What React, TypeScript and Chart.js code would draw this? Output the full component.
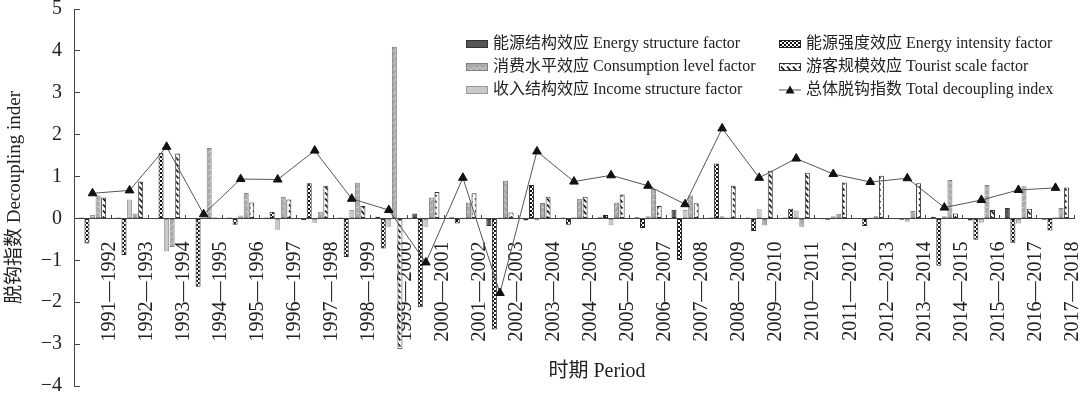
import React, { useEffect, useRef } from "react";
import { Chart, registerables } from "chart.js";

Chart.register(...registerables);

const categories = [
  "1991—1992", "1992—1993", "1993—1994", "1994—1995", "1995—1996", "1996—1997",
  "1997—1998", "1998—1999", "1999—2000", "2000—2001", "2001—2002", "2002—2003",
  "2003—2004", "2004—2005", "2005—2006", "2006—2007", "2007—2008", "2008—2009",
  "2009—2010", "2010—2011", "2011—2012", "2012—2013", "2013—2014", "2014—2015",
  "2015—2016", "2016—2017", "2017—2018",
];

const energyStructure = [0.02, 0.02, -0.02, 0.01, 0.02, 0.02, -0.04, 0.02, 0.04, 0.12, 0.03, -0.18, -0.05, 0.02, 0.03, 0.03, 0.21, 0.02, 0.02, 0.02, -0.02, 0.01, -0.02, 0.04, -0.05, 0.25, -0.03];
const energyIntensity = [-0.6, -0.87, 1.57, -1.63, -0.15, 0.16, 0.84, -0.92, -0.72, -2.12, -0.12, -2.65, 0.8, -0.15, 0.08, -0.23, -0.99, 1.31, -0.3, 0.23, -0.03, -0.18, -0.03, -1.13, -0.51, -0.58, -0.29];
const incomeStructure = [0.08, 0.45, -0.79, 0.02, 0.07, -0.27, -0.1, 0.2, -0.2, -0.2, 0.02, 0.02, -0.05, 0.03, -0.16, 0.05, 0.2, 0.05, 0.22, 0.19, 0.05, 0.02, -0.08, 0.05, -0.1, -0.12, 0.03];
const consumptionLevel = [0.55, 0.12, -0.68, 1.68, 0.61, 0.52, 0.16, 0.85, 4.1, 0.5, 0.38, 0.9, 0.37, 0.47, 0.38, 0.7, 0.55, 0.02, -0.17, -0.2, 0.11, 0.05, 0.18, 0.92, 0.8, 0.77, 0.25];
const touristScale = [0.5, 0.88, 1.55, 0.02, 0.38, 0.45, 0.78, 0.3, -3.12, 0.63, 0.6, 0.14, 0.52, 0.52, 0.57, 0.3, 0.36, 0.78, 1.14, 1.09, 0.86, 1.02, 0.84, 0.12, 0.2, 0.23, 0.74];
const totalDecoupling = [0.6, 0.67, 1.71, 0.1, 0.94, 0.93, 1.62, 0.47, 0.2, -1.05, 0.97, -1.78, 1.6, 0.88, 1.03, 0.78, 0.34, 2.15, 0.97, 1.43, 1.06, 0.87, 0.96, 0.26, 0.44, 0.68, 0.73];

const yTicks = [-4, -3, -2, -1, 0, 1, 2, 3, 4, 5];

const FONT = "'Liberation Serif', 'Noto Sans CJK SC', serif";

function makePattern(kind: string): CanvasPattern | string {
  const c = document.createElement("canvas");
  const g = c.getContext("2d")!;
  if (kind === "checker") {
    c.width = 4; c.height = 4;
    g.fillStyle = "#ffffff"; g.fillRect(0, 0, 4, 4);
    g.fillStyle = "#111111";
    g.fillRect(0, 0, 2, 2); g.fillRect(2, 2, 2, 2);
  } else if (kind === "tourist") {
    c.width = 6; c.height = 6;
    g.fillStyle = "#ffffff"; g.fillRect(0, 0, 6, 6);
    g.strokeStyle = "#111111"; g.lineWidth = 1.6;
    g.beginPath(); g.moveTo(1, 0.5); g.lineTo(4.5, 4.5); g.stroke();
  } else if (kind === "zigzag") {
    c.width = 6; c.height = 6;
    g.fillStyle = "#a9a9a9"; g.fillRect(0, 0, 6, 6);
    g.strokeStyle = "#d2d2d2"; g.lineWidth = 1;
    g.beginPath(); g.moveTo(0, 1); g.lineTo(3, 4); g.lineTo(6, 1); g.stroke();
  }
  return g.createPattern(c, "repeat") || "#999";
}

const legendPlugin = {
  id: "customLegend",
  afterDraw(chart: any) {
    const ctx = chart.ctx;
    const ds = chart.data.datasets;
    const cols = [
      { x: 466, items: [0, 3, 2] },
      { x: 779, items: [1, 4, 5] },
    ];
    const rows = [44, 67, 90];
    ctx.save();
    ctx.font = `16px ${FONT}`;
    ctx.textBaseline = "middle";
    ctx.textAlign = "left";
    cols.forEach((col) => {
      col.items.forEach((di, r) => {
        const d = ds[di];
        const y = rows[r];
        if (d.type === "line") {
          ctx.strokeStyle = d.borderColor;
          ctx.lineWidth = 1;
          ctx.beginPath(); ctx.moveTo(col.x, y); ctx.lineTo(col.x + 22, y); ctx.stroke();
          ctx.fillStyle = d.pointBackgroundColor;
          ctx.beginPath();
          ctx.moveTo(col.x + 11, y - 4.5); ctx.lineTo(col.x + 15.5, y + 3.5); ctx.lineTo(col.x + 6.5, y + 3.5);
          ctx.closePath(); ctx.fill();
        } else {
          ctx.fillStyle = d.backgroundColor;
          ctx.fillRect(col.x, y - 4, 22, 8);
          ctx.strokeStyle = d.borderColor;
          ctx.lineWidth = 1;
          ctx.strokeRect(col.x + 0.5, y - 3.5, 21, 7);
        }
        ctx.fillStyle = "#222";
        ctx.fillText(d.label, col.x + 27, y);
      });
    });
    ctx.restore();
  },
};

const xTitlePlugin = {
  id: "xTitle",
  afterDraw(chart: any) {
    const ctx = chart.ctx;
    ctx.save();
    ctx.font = `20px ${FONT}`;
    ctx.fillStyle = "#222";
    ctx.textAlign = "center";
    ctx.textBaseline = "middle";
    ctx.fillText("时期 Period", 597, 372);
    ctx.restore();
  },
};

export default function App() {
  const ref = useRef<HTMLCanvasElement | null>(null);

  useEffect(() => {
    document.body.style.margin = "0";
    const canvas = ref.current!;
    const checker = makePattern("checker");
    const tourist = makePattern("tourist");
    const zigzag = makePattern("zigzag");

    const barCommon = { borderWidth: 1, borderSkipped: false as const, order: 1, categoryPercentage: 0.75, barPercentage: 0.9 };

    const chart = new Chart(canvas, {
      type: "bar",
      data: {
        labels: categories,
        datasets: [
          { type: "bar", label: "能源结构效应 Energy structure factor", data: energyStructure, backgroundColor: "#555555", borderColor: "#333333", ...barCommon },
          { type: "bar", label: "能源强度效应 Energy intensity factor", data: energyIntensity, backgroundColor: checker, borderColor: "#222222", ...barCommon },
          { type: "bar", label: "收入结构效应 Income structure factor", data: incomeStructure, backgroundColor: "#c9c9c9", borderColor: "#999999", ...barCommon },
          { type: "bar", label: "消费水平效应 Consumption level factor", data: consumptionLevel, backgroundColor: zigzag, borderColor: "#808080", ...barCommon },
          { type: "bar", label: "游客规模效应 Tourist scale factor", data: touristScale, backgroundColor: tourist, borderColor: "#333333", ...barCommon },
          {
            type: "line", label: "总体脱钩指数 Total decoupling index", data: totalDecoupling,
            borderColor: "#555555", borderWidth: 1, pointStyle: "triangle", pointRadius: 5,
            pointBackgroundColor: "#111111", pointBorderColor: "#111111", pointBorderWidth: 1,
            tension: 0, fill: false, order: 0,
          } as any,
        ],
      },
      options: {
        responsive: false,
        animation: false,
        devicePixelRatio: 1,
        layout: { padding: { left: 0, top: 9, right: 6, bottom: 7 } },
        plugins: { legend: { display: false }, tooltip: { enabled: false } },
        scales: {
          x: {
            position: { y: 0 } as any,
            offset: true,
            grid: { display: true, drawOnChartArea: false, drawTicks: true, tickLength: -4, color: "#444", offset: true },
            border: { display: true, color: "#444", width: 1 },
            ticks: {
              autoSkip: false, minRotation: 90, maxRotation: 90, padding: 27, labelOffset: 17,
              font: { family: FONT, size: 20 }, color: "#222",
            },
            afterFit: (s: any) => { s.paddingLeft = 0; s.paddingRight = 0; },
          },
          y: {
            min: -4, max: 5,
            afterBuildTicks: (s: any) => { s.ticks = yTicks.map((v) => ({ value: v })); },
            ticks: {
              padding: 18,
              font: { family: FONT, size: 20 }, color: "#222",
              callback: (v: any) => (Number(v) < 0 ? "−" + Math.abs(Number(v)) : String(v)),
            },
            grid: { display: true, drawOnChartArea: false, drawTicks: true, tickLength: -6, color: "#444" },
            border: { display: true, color: "#444", width: 1 },
            title: { display: true, text: "脱钩指数 Decoupling inder", font: { family: FONT, size: 19 }, color: "#222", padding: { top: 4, bottom: 4 } },
            afterFit: (s: any) => { s.width = 74; s.paddingTop = 0; s.paddingBottom = 0; },
          },
        },
      },
      plugins: [legendPlugin, xTitlePlugin],
    } as any);

    return () => chart.destroy();
  }, []);

  return <canvas ref={ref} width={1080} height={393} style={{ display: "block" }} />;
}
